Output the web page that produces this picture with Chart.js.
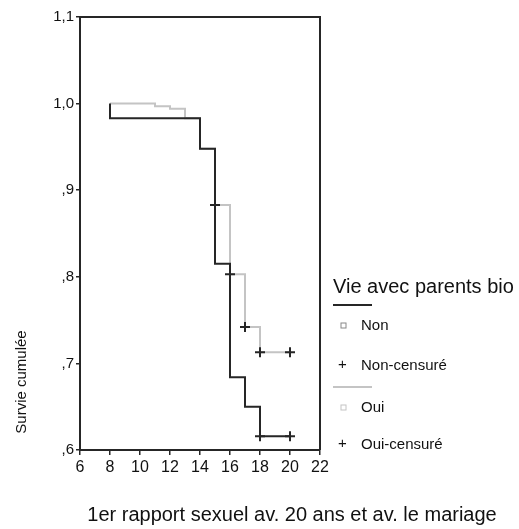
<!DOCTYPE html>
<html>
<head>
<meta charset="utf-8">
<script src="https://cdn.jsdelivr.net/npm/chart.js@4"></script>
<style>
  html, body { margin: 0; padding: 0; background: #fff; }
  #wrap { width: 519px; height: 529px; position: relative; }
</style>
</head>
<body>
<div id="wrap"><canvas id="survie-chart"></canvas></div>
<script>
// Kaplan-Meier steps: time of each drop and survival just after it
const nonTimes = [8, 8, 14, 15, 16, 17, 18, 20];
const nonSurvival = [1.0, 0.983, 0.948, 0.815, 0.684, 0.650, 0.616, 0.616];
const ouiTimes = [8, 11, 12, 13, 14, 15, 16, 17, 18, 20];
const ouiSurvival = [1.0, 0.997, 0.994, 0.983, 0.948, 0.883, 0.803, 0.742, 0.713, 0.713];

// censored observations
const nonCensoredTimes = [18, 20];
const nonCensoredSurvival = [0.616, 0.616];
const ouiCensoredTimes = [15, 16, 17, 18, 20];
const ouiCensoredSurvival = [0.883, 0.803, 0.742, 0.713, 0.713];

const xTicks = [6, 8, 10, 12, 14, 16, 18, 20, 22];
const yTicks = [0.6, 0.7, 0.8, 0.9, 1.0, 1.1];
const yTickLabels = [',6', ',7', ',8', ',9', '1,0', '1,1'];

const xTitle = '1er rapport sexuel av. 20 ans et av. le mariage';
const yTitle = 'Survie cumulée';
const legendTitle = 'Vie avec parents bio';
const legendLabels = ['Non', 'Non-censuré', 'Oui', 'Oui-censuré'];

const dark = '#262626';
const light = '#c4c4c4';
const font = '"Liberation Sans", Arial, sans-serif';

const toPoints = (xs, ys) => xs.map((x, i) => ({ x: x, y: ys[i] }));

// frame, axis titles and the legend on the right
const extras = {
    id: 'extras',
    afterDraw(chart) {
        const ctx = chart.ctx;
        const a = chart.chartArea;
        ctx.save();

        ctx.strokeStyle = dark;
        ctx.lineWidth = 2;
        ctx.beginPath();
        ctx.moveTo(a.left, a.top);
        ctx.lineTo(a.right, a.top);
        ctx.lineTo(a.right, a.bottom);
        ctx.stroke();

        ctx.fillStyle = '#111';
        ctx.textAlign = 'center';
        ctx.textBaseline = 'middle';
        ctx.font = '20px ' + font;
        ctx.fillText(xTitle, 292, 515);

        ctx.save();
        ctx.translate(22, 382);
        ctx.rotate(-Math.PI / 2);
        ctx.font = '15px ' + font;
        ctx.fillText(yTitle, 0, 0);
        ctx.restore();

        const lx = a.right + 13;
        ctx.textAlign = 'left';
        ctx.textBaseline = 'alphabetic';
        ctx.font = '20px ' + font;
        ctx.fillText(legendTitle, lx, 293);

        ctx.lineWidth = 2;
        ctx.strokeStyle = dark;
        ctx.beginPath(); ctx.moveTo(lx, 305); ctx.lineTo(lx + 39, 305); ctx.stroke();
        ctx.strokeStyle = light;
        ctx.beginPath(); ctx.moveTo(lx, 387); ctx.lineTo(lx + 39, 387); ctx.stroke();

        ctx.lineWidth = 1;
        ctx.strokeStyle = '#888';
        ctx.strokeRect(lx + 8, 323, 5, 5);
        ctx.strokeStyle = light;
        ctx.strokeRect(lx + 8, 405, 5, 5);

        ctx.textBaseline = 'middle';
        ctx.font = '15px ' + font;
        ctx.fillText('+', lx + 5, 365);
        ctx.fillText('+', lx + 5, 444);
        const rows = [326, 366, 408, 445];
        legendLabels.forEach((t, i) => ctx.fillText(t, lx + 28, rows[i]));

        ctx.restore();
    }
};

new Chart(document.getElementById('survie-chart'), {
    type: 'line',
    data: {
        datasets: [{
            label: 'Non-censuré',
            data: toPoints(nonCensoredTimes, nonCensoredSurvival),
            showLine: false,
            pointStyle: 'cross',
            pointRadius: 5,
            pointBorderWidth: 2,
            borderColor: dark
        }, {
            label: 'Oui-censuré',
            data: toPoints(ouiCensoredTimes, ouiCensoredSurvival),
            showLine: false,
            pointStyle: 'cross',
            pointRadius: 5,
            pointBorderWidth: 2,
            borderColor: dark
        }, {
            label: 'Non',
            data: toPoints(nonTimes, nonSurvival),
            stepped: 'before',
            borderColor: dark,
            borderWidth: 2,
            pointRadius: 0,
            fill: false
        }, {
            label: 'Oui',
            data: toPoints(ouiTimes, ouiSurvival),
            stepped: 'before',
            borderColor: light,
            borderWidth: 2,
            pointRadius: 0,
            fill: false
        }]
    },
    options: {
        responsive: true,
        maintainAspectRatio: false,
        animation: false,
        events: [],
        layout: { padding: { left: 0, right: 199, top: 17, bottom: 0 } },
        plugins: {
            legend: { display: false },
            tooltip: { enabled: false }
        },
        scales: {
            x: {
                type: 'linear',
                min: 6,
                max: 22,
                afterFit: (s) => { s.height = 79; },
                afterBuildTicks: (s) => { s.ticks = xTicks.map(v => ({ value: v })); },
                grid: { drawOnChartArea: false, tickLength: 5, color: dark, lineWidth: 1.5 },
                border: { color: dark, width: 2 },
                ticks: { color: '#111', padding: 3, font: { family: font, size: 16 } }
            },
            y: {
                min: 0.6,
                max: 1.1,
                afterFit: (s) => { s.width = 80; },
                afterBuildTicks: (s) => { s.ticks = yTicks.map(v => ({ value: v })); },
                grid: { drawOnChartArea: false, tickLength: 4, color: dark, lineWidth: 1.5 },
                border: { color: dark, width: 2 },
                ticks: {
                    color: '#111',
                    padding: 2,
                    font: { family: font, size: 15 },
                    callback: (v, i) => yTickLabels[i]
                }
            }
        }
    },
    plugins: [extras]
});
</script>
</body>
</html>
